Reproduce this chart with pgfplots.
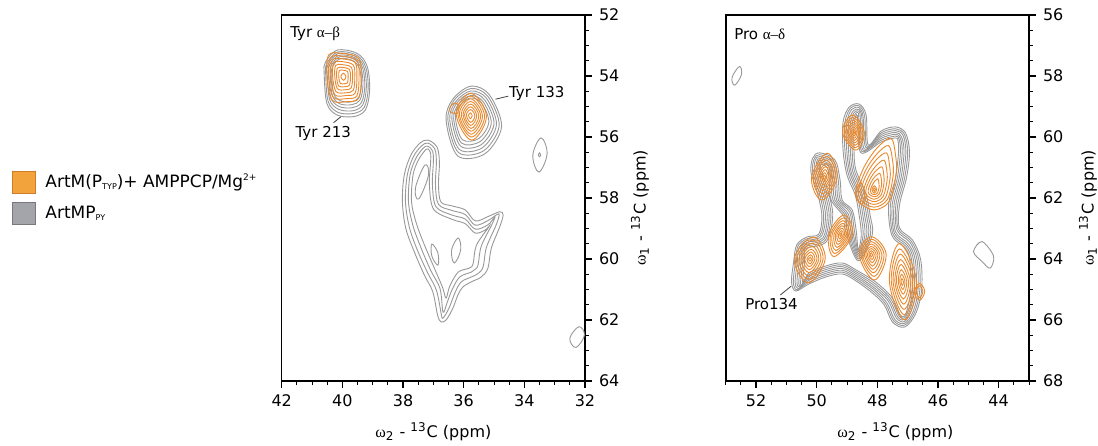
\documentclass[border=0pt]{standalone}
\usepackage{pgfplots}
\pgfplotsset{compat=1.18}
\usepackage{fontspec}
\setmainfont{DejaVu Sans}
\newfontfamily\greek{Liberation Serif}
\definecolor{oc}{RGB}{234,136,44}
\definecolor{gc}{RGB}{152,152,152}
\definecolor{olf}{RGB}{242,163,60}
\definecolor{old}{RGB}{205,125,40}
\definecolor{glf}{RGB}{163,165,170}
\definecolor{gld}{RGB}{120,120,125}
\newcommand\fa{\fontsize{7.5}{9}\selectfont}
\newcommand\fl{\fontsize{8}{9.5}\selectfont}
\pgfplotsset{
  panel/.style={scale only axis, width=151.65pt, height=183pt,
    x dir=reverse, y dir=reverse, clip mode=individual,
    axis line style={line width=0.8pt},
    tick align=outside, xtick pos=left, ytick pos=right, yticklabel pos=right,
    major tick length=3.5pt, minor tick length=2pt,
    every tick/.style={black, line width=0.7pt},
    every minor tick/.style={black, line width=0.5pt},
    tick label style={font=\fontsize{8}{9.5}\selectfont},
    /pgf/number format/assume math mode=true},
  gcont/.style={draw=gc, line width=0.45pt, smooth cycle, tension=0.65, mark=none},
  ocont/.style={draw=oc, line width=0.45pt, smooth cycle, tension=0.65, mark=none},
  genv/.style={draw=gc, line width=0.45pt, smooth cycle, tension=0.55, mark=none},
  oenv/.style={draw=oc, line width=0.45pt, smooth cycle, tension=0.55, mark=none}
}
\begin{document}
\begin{tikzpicture}[x=1pt,y=1pt]
\path[use as bounding box] (0,0) rectangle (549,222.5);
% legend
\filldraw[fill=olf, draw=old, line width=0.4pt] (6,126) rectangle (17.5,137);
\filldraw[fill=glf, draw=gld, line width=0.4pt] (6,110.5) rectangle (17.5,121.5);
\node[anchor=west, inner sep=0pt, font=\fontsize{8.5}{10}\selectfont] at (22.5,131.5) {ArtM(P\raisebox{-1pt}{\fontsize{4}{4}\selectfont TYP})+ AMPPCP/Mg\raisebox{3.5pt}{\fontsize{4.5}{5}\selectfont 2+}};
\node[anchor=west, inner sep=0pt, font=\fontsize{8.5}{10}\selectfont] at (22.5,116) {ArtMP\raisebox{-1pt}{\fontsize{4}{4}\selectfont PY}};

% ---------------- left panel ----------------
\begin{axis}[panel, at={(140.85pt,32pt)}, anchor=south west,
  xmin=32, xmax=42, ymin=52, ymax=64,
  xtick={32,34,...,42}, ytick={52,54,...,64},
  minor xtick={32,32.5,...,42}, minor ytick={52,52.5,...,64}]
% Tyr 213 gray
\addplot[genv] coordinates {(40.17,53.15) (39.51,53.26) (39.18,53.69) (39.10,54.46) (39.24,55.11) (39.62,55.33) (40.17,55.28) (40.51,54.90) (40.60,53.91) (40.56,53.55)};
\addplot[genv] coordinates {(40.15,53.21) (39.54,53.31) (39.23,53.71) (39.15,54.42) (39.28,55.03) (39.64,55.23) (40.15,55.19) (40.47,54.83) (40.55,53.91) (40.51,53.58)};
\addplot[genv] coordinates {(40.13,53.26) (39.56,53.36) (39.28,53.73) (39.21,54.39) (39.33,54.95) (39.66,55.14) (40.13,55.09) (40.42,54.77) (40.50,53.92) (40.47,53.61)};
\addplot[genv] coordinates {(40.11,53.32) (39.59,53.40) (39.33,53.74) (39.26,54.35) (39.37,54.87) (39.67,55.04) (40.11,55.00) (40.38,54.70) (40.45,53.92) (40.42,53.63)};
\addplot[genv] coordinates {(40.09,53.37) (39.61,53.45) (39.38,53.76) (39.32,54.32) (39.42,54.79) (39.69,54.94) (40.09,54.91) (40.33,54.63) (40.40,53.92) (40.37,53.66)};
\addplot[genv] coordinates {(40.07,53.43) (39.64,53.50) (39.43,53.78) (39.37,54.28) (39.46,54.70) (39.71,54.85) (40.07,54.81) (40.29,54.57) (40.35,53.92) (40.32,53.69)};
% Tyr 133 gray
\addplot[genv] coordinates {(35.75,54.33) (35.15,54.62) (34.75,55.66) (35.30,56.55) (36.20,56.62) (36.58,55.45) (36.35,54.75)};
\addplot[genv] coordinates {(35.75,54.41) (35.20,54.67) (34.83,55.63) (35.34,56.45) (36.17,56.51) (36.52,55.44) (36.31,54.79)};
\addplot[genv] coordinates {(35.76,54.49) (35.25,54.73) (34.92,55.60) (35.38,56.35) (36.14,56.41) (36.46,55.43) (36.26,54.84)};
\addplot[genv] coordinates {(35.76,54.56) (35.31,54.78) (35.00,55.57) (35.42,56.25) (36.10,56.30) (36.39,55.41) (36.22,54.88)};
\addplot[genv] coordinates {(35.77,54.64) (35.36,54.84) (35.09,55.55) (35.46,56.15) (36.07,56.20) (36.33,55.40) (36.17,54.93)};
\addplot[genv] coordinates {(35.77,54.72) (35.41,54.89) (35.17,55.52) (35.50,56.05) (36.04,56.09) (36.27,55.39) (36.13,54.97)};
% small peaks
\addplot[gcont] coordinates {(33.45,56.03) (33.25,56.55) (33.52,57.15) (33.72,56.60)};
\addplot[gcont] coordinates {(33.50,56.52) (33.46,56.58) (33.50,56.65) (33.54,56.58)};
\addplot[gcont] coordinates {(32.20,62.22) (32.02,62.50) (32.30,62.90) (32.50,62.60)};
% lower structure
\addplot[genv] coordinates {(37.18,56.10) (36.88,56.33) (36.80,56.82) (36.83,57.57) (36.75,58.13) (36.38,58.26) (35.95,58.39) (35.62,58.75) (35.20,58.61) (34.81,58.45) (34.70,58.56) (34.81,58.94) (35.09,59.65) (35.20,60.30) (35.42,60.59) (35.75,60.75) (36.03,60.92) (36.19,61.18) (36.36,61.62) (36.58,62.00) (36.75,62.06) (36.86,61.84) (37.02,61.07) (37.30,60.52) (37.63,59.76) (37.91,58.99) (38.02,58.12) (37.96,57.25) (37.74,56.59) (37.44,56.20)};
\addplot[genv] coordinates {(37.18,56.20) (36.95,56.40) (36.90,56.82) (36.93,57.57) (36.83,58.21) (36.38,58.41) (35.95,58.54) (35.62,58.89) (35.20,58.74) (34.90,58.54) (34.83,58.56) (34.94,58.91) (35.25,59.62) (35.36,60.26) (35.53,60.48) (35.75,60.59) (36.08,60.75) (36.28,61.09) (36.47,61.58) (36.64,61.89) (36.71,61.94) (36.74,61.80) (36.90,61.02) (37.19,60.45) (37.53,59.70) (37.79,58.96) (37.92,58.12) (37.86,57.25) (37.66,56.65) (37.39,56.29)};
\addplot[genv] coordinates {(37.18,56.30) (37.02,56.47) (37.00,56.82) (37.03,57.57) (36.91,58.29) (36.38,58.56) (35.95,58.69) (35.62,59.02) (35.20,58.88) (34.97,58.61) (35.08,58.89) (35.42,59.58) (35.53,60.21) (35.65,60.36) (35.75,60.43) (36.13,60.59) (36.38,61.00) (36.55,61.44) (36.68,61.74) (36.78,60.97) (37.09,60.37) (37.42,59.60) (37.68,58.88) (37.82,58.12) (37.77,57.25) (37.58,56.71) (37.34,56.37)};
\addplot[genv] coordinates {(37.18,56.39) (37.09,56.53) (37.09,56.82) (37.13,57.57) (36.99,58.37) (36.38,58.70) (35.95,58.84) (35.62,59.15) (35.29,59.05) (35.15,58.92) (35.58,59.55) (35.69,60.16) (35.82,60.30) (36.18,60.43) (36.46,60.89) (36.58,61.28) (36.70,60.92) (36.98,60.27) (37.31,59.50) (37.56,58.83) (37.72,58.12) (37.67,57.25) (37.50,56.77) (37.29,56.46)};
\addplot[gcont] coordinates {(37.28,56.92) (37.16,57.25) (37.48,58.03) (37.59,57.67)};
\addplot[gcont] coordinates {(36.18,59.31) (36.10,59.71) (36.31,60.13) (36.40,59.71)};
\addplot[gcont] coordinates {(37.05,59.51) (36.85,59.80) (36.85,60.20) (37.05,59.90)};
% Tyr 213 orange
\addplot[oenv] coordinates {(40.45,53.31) (40.01,53.26) (39.46,53.42) (39.38,54.02) (39.46,54.73) (39.84,54.84) (40.34,54.79) (40.51,54.02)};
\addplot[oenv] coordinates {(40.39,53.40) (40.01,53.35) (39.52,53.49) (39.45,54.02) (39.52,54.65) (39.86,54.74) (40.30,54.70) (40.45,54.02)};
\addplot[oenv] coordinates {(40.33,53.48) (40.00,53.44) (39.58,53.56) (39.52,54.02) (39.58,54.56) (39.87,54.64) (40.25,54.61) (40.38,54.02)};
\addplot[oenv] coordinates {(40.28,53.57) (40.00,53.53) (39.64,53.64) (39.59,54.02) (39.64,54.47) (39.89,54.55) (40.21,54.51) (40.32,54.02)};
\addplot[oenv] coordinates {(40.22,53.65) (39.99,53.63) (39.71,53.71) (39.66,54.02) (39.71,54.39) (39.90,54.45) (40.16,54.42) (40.25,54.02)};
\addplot[oenv] coordinates {(40.16,53.74) (39.99,53.72) (39.77,53.78) (39.73,54.02) (39.77,54.30) (39.92,54.35) (40.12,54.33) (40.19,54.02)};
\addplot[oenv] coordinates {(40.10,53.82) (39.98,53.81) (39.83,53.85) (39.81,54.02) (39.83,54.22) (39.93,54.25) (40.07,54.24) (40.12,54.02)};
\addplot[ocont] coordinates {(39.97,53.91) (39.88,54.02) (39.96,54.14) (40.05,54.02)};
% Tyr 133 orange
\addplot[ocont] coordinates {(35.75,54.57) (35.25,55.33) (35.75,56.10) (36.25,55.22)};
\addplot[ocont] coordinates {(35.75,54.66) (35.31,55.33) (35.75,56.00) (36.19,55.23)};
\addplot[ocont] coordinates {(35.76,54.75) (35.38,55.32) (35.76,55.91) (36.14,55.24)};
\addplot[ocont] coordinates {(35.76,54.83) (35.44,55.32) (35.76,55.81) (36.08,55.25)};
\addplot[ocont] coordinates {(35.76,54.92) (35.50,55.32) (35.76,55.72) (36.02,55.26)};
\addplot[ocont] coordinates {(35.77,55.01) (35.57,55.31) (35.77,55.62) (35.97,55.27)};
\addplot[ocont] coordinates {(35.77,55.10) (35.63,55.31) (35.77,55.52) (35.91,55.28)};
\addplot[ocont] coordinates {(35.78,55.21) (35.72,55.30) (35.78,55.40) (35.84,55.29)};
\addplot[ocont] coordinates {(36.40,54.95) (36.22,54.90) (36.20,55.22) (36.46,55.15)};
% labels
\node[anchor=west, font=\fa, inner sep=0pt] at (axis description cs:0.027,0.949) {Tyr {\greek α–β}};
\node[font=\fa, inner sep=0pt] at (axis cs:40.63,55.90) {Tyr 213};
\draw[black!75, line width=0.4pt] (axis cs:40.29,55.53) -- (axis cs:40.04,55.33);
\node[font=\fa, inner sep=0pt] at (axis cs:33.59,54.56) {Tyr 133};
\draw[black!75, line width=0.4pt] (axis cs:34.95,54.76) -- (axis cs:34.53,54.66);
\node[font=\fl] at ([yshift=-25.5pt]axis description cs:0.5,0) {{\greek ω}\textsubscript{2} - \textsuperscript{13}C (ppm)};
\node[font=\fl, rotate=90] at ([xshift=27.5pt]axis description cs:1,0.473) {{\greek ω}\textsubscript{1} - \textsuperscript{13}C (ppm)};
\end{axis}

% ---------------- right panel ----------------
\begin{axis}[panel, at={(362.85pt,32pt)}, anchor=south west,
  xmin=43, xmax=53, ymin=56, ymax=68,
  xtick={44,46,...,52}, ytick={56,58,...,68},
  minor xtick={43,43.5,...,53}, minor ytick={56,56.5,...,68}]
\addplot[gcont] coordinates {(52.55,57.69) (52.48,57.95) (52.70,58.30) (52.79,58.05)};
\addplot[genv] coordinates {(44.55,63.43) (44.17,63.90) (44.28,64.30) (44.55,64.08) (44.83,63.76)};
% envelope
\addplot[genv] coordinates {(49.90,60.52) (49.40,60.75) (49.23,61.41) (49.16,62.07) (48.83,62.39) (48.70,63.05) (48.63,63.70) (48.53,63.21) (48.60,62.56) (48.73,61.90) (49.00,61.25) (49.13,60.43) (49.13,59.51) (48.93,59.02) (48.60,58.92) (48.37,59.28) (48.30,60.26) (47.87,59.80) (47.40,59.67) (47.07,59.87) (46.94,60.49) (47.04,61.34) (47.27,62.23) (47.27,62.98) (46.84,63.38) (46.57,64.03) (46.54,65.02) (46.74,65.80) (47.10,66.23) (47.50,66.07) (47.77,65.51) (48.17,65.11) (48.70,64.72) (49.16,64.49) (49.70,64.59) (50.26,64.82) (50.69,65.05) (50.83,64.75) (50.76,64.10) (50.66,63.54) (50.33,63.28) (49.93,63.18) (49.83,62.56) (50.00,61.74) (50.19,61.15) (50.13,60.69)};
\addplot[genv] coordinates {(49.90,60.58) (49.44,60.79) (49.29,61.41) (49.22,62.07) (48.87,62.43) (48.76,63.05) (48.63,63.76) (48.47,63.21) (48.54,62.56) (48.67,61.90) (48.95,61.22) (49.07,60.43) (49.07,59.53) (48.89,59.06) (48.60,58.98) (48.42,59.31) (48.34,60.30) (47.87,59.86) (47.40,59.73) (47.11,59.91) (47.00,60.49) (47.10,61.34) (47.33,62.23) (47.31,63.02) (46.88,63.42) (46.63,64.03) (46.60,65.02) (46.78,65.76) (47.10,66.17) (47.46,66.03) (47.73,65.47) (48.15,65.05) (48.70,64.66) (49.16,64.43) (49.70,64.53) (50.26,64.76) (50.65,65.01) (50.77,64.75) (50.70,64.10) (50.62,63.58) (50.33,63.34) (49.89,63.22) (49.77,62.56) (49.94,61.74) (50.13,61.15) (50.09,60.73)};
\addplot[genv] coordinates {(49.90,60.64) (49.48,60.83) (49.35,61.41) (49.28,62.07) (48.91,62.47) (48.82,63.05) (48.63,63.82) (48.41,63.21) (48.48,62.56) (48.61,61.90) (48.90,61.19) (49.01,60.43) (49.01,59.55) (48.85,59.10) (48.60,59.04) (48.47,59.34) (48.38,60.34) (47.87,59.92) (47.40,59.79) (47.15,59.95) (47.06,60.49) (47.16,61.34) (47.39,62.23) (47.35,63.06) (46.92,63.46) (46.69,64.03) (46.66,65.02) (46.82,65.72) (47.10,66.11) (47.42,65.99) (47.69,65.43) (48.13,64.99) (48.70,64.60) (49.16,64.37) (49.70,64.47) (50.26,64.70) (50.61,64.97) (50.71,64.75) (50.64,64.10) (50.58,63.62) (50.33,63.40) (49.85,63.26) (49.71,62.56) (49.88,61.74) (50.07,61.15) (50.05,60.77)};
\addplot[genv] coordinates {(49.90,60.70) (49.53,60.88) (49.41,61.41) (49.34,62.07) (48.96,62.52) (48.88,63.05) (48.63,63.88) (48.35,63.21) (48.42,62.56) (48.55,61.90) (48.86,61.16) (48.95,60.43) (48.95,59.56) (48.80,59.15) (48.60,59.10) (48.51,59.37) (48.43,60.39) (47.87,59.98) (47.40,59.85) (47.20,60.00) (47.12,60.49) (47.22,61.34) (47.45,62.23) (47.40,63.11) (46.97,63.51) (46.75,64.03) (46.72,65.02) (46.87,65.67) (47.10,66.05) (47.37,65.94) (47.64,65.38) (48.12,64.93) (48.70,64.54) (49.16,64.31) (49.70,64.41) (50.26,64.64) (50.56,64.92) (50.65,64.75) (50.58,64.10) (50.53,63.67) (50.33,63.46) (49.80,63.31) (49.65,62.56) (49.82,61.74) (50.01,61.15) (50.00,60.82)};
\addplot[genv] coordinates {(49.90,60.76) (49.57,60.92) (49.47,61.41) (49.40,62.07) (49.00,62.56) (48.94,63.05) (48.63,63.94) (48.29,63.21) (48.36,62.56) (48.49,61.90) (48.81,61.13) (48.89,60.43) (48.89,59.58) (48.76,59.19) (48.60,59.16) (48.56,59.40) (48.47,60.43) (47.87,60.04) (47.40,59.91) (47.24,60.04) (47.18,60.49) (47.28,61.34) (47.51,62.23) (47.44,63.15) (47.01,63.55) (46.81,64.03) (46.78,65.02) (46.91,65.63) (47.10,65.99) (47.33,65.90) (47.60,65.34) (48.10,64.87) (48.70,64.48) (49.16,64.25) (49.70,64.35) (50.26,64.58) (50.52,64.88) (50.59,64.75) (50.52,64.10) (50.49,63.71) (50.33,63.52) (49.76,63.35) (49.59,62.56) (49.76,61.74) (49.95,61.15) (49.96,60.86)};
\addplot[genv] coordinates {(49.90,60.82) (49.61,60.96) (49.53,61.41) (49.46,62.07) (49.04,62.60) (49.00,63.05) (48.63,64.00) (48.23,63.21) (48.30,62.56) (48.43,61.90) (48.76,61.10) (48.83,60.43) (48.83,59.60) (48.72,59.23) (48.62,59.22) (48.61,59.43) (48.51,60.47) (47.87,60.10) (47.40,59.97) (47.28,60.08) (47.24,60.49) (47.34,61.34) (47.57,62.23) (47.48,63.19) (47.05,63.59) (46.87,64.03) (46.84,65.02) (46.95,65.59) (47.10,65.93) (47.29,65.86) (47.56,65.30) (48.08,64.81) (48.70,64.42) (49.16,64.19) (49.70,64.29) (50.26,64.52) (50.48,64.84) (50.53,64.75) (50.46,64.10) (50.45,63.75) (50.33,63.58) (49.72,63.39) (49.53,62.56) (49.70,61.74) (49.89,61.15) (49.92,60.90)};
\addplot[genv] coordinates {(49.90,60.88) (49.65,61.00) (49.59,61.41) (49.52,62.07) (49.08,62.64) (49.06,63.05) (48.63,64.06) (48.17,63.21) (48.24,62.56) (48.37,61.90) (48.71,61.07) (48.77,60.43) (48.77,59.62) (48.66,59.30) (48.55,60.51) (47.87,60.16) (47.40,60.03) (47.32,60.12) (47.30,60.49) (47.40,61.34) (47.63,62.23) (47.52,63.23) (47.09,63.63) (46.93,64.03) (46.90,65.02) (46.99,65.55) (47.10,65.87) (47.25,65.82) (47.52,65.26) (48.06,64.75) (48.70,64.36) (49.16,64.13) (49.70,64.23) (50.26,64.46) (50.46,64.78) (50.40,64.10) (50.41,63.79) (50.33,63.64) (49.68,63.43) (49.47,62.56) (49.64,61.74) (49.83,61.15) (49.88,60.94)};
% orange A
\addplot[ocont] coordinates {(48.82,59.28) (48.43,59.85) (48.71,60.43) (49.15,59.85)};
\addplot[ocont] coordinates {(48.81,59.36) (48.48,59.85) (48.72,60.35) (49.10,59.85)};
\addplot[ocont] coordinates {(48.81,59.44) (48.53,59.85) (48.73,60.27) (49.05,59.85)};
\addplot[ocont] coordinates {(48.80,59.52) (48.58,59.85) (48.74,60.19) (48.99,59.85)};
\addplot[ocont] coordinates {(48.80,59.59) (48.62,59.85) (48.75,60.11) (48.95,59.85)};
\addplot[ocont] coordinates {(48.79,59.67) (48.67,59.85) (48.76,60.04) (48.90,59.85)};
\addplot[ocont] coordinates {(48.79,59.74) (48.71,59.85) (48.77,59.97) (48.85,59.85)};
\addplot[ocont] coordinates {(48.78,59.80) (48.75,59.85) (48.77,59.90) (48.81,59.85)};
% orange B
\addplot[ocont] coordinates {(49.65,60.53) (49.33,61.33) (49.83,62.07) (50.17,61.33)};
\addplot[ocont] coordinates {(49.66,60.64) (49.39,61.33) (49.82,61.97) (50.11,61.33)};
\addplot[ocont] coordinates {(49.68,60.75) (49.45,61.33) (49.81,61.86) (50.05,61.33)};
\addplot[ocont] coordinates {(49.69,60.87) (49.51,61.33) (49.80,61.76) (49.99,61.33)};
\addplot[ocont] coordinates {(49.71,60.97) (49.56,61.33) (49.79,61.66) (49.94,61.33)};
\addplot[ocont] coordinates {(49.72,61.07) (49.62,61.33) (49.78,61.57) (49.88,61.33)};
\addplot[ocont] coordinates {(49.73,61.17) (49.67,61.33) (49.77,61.48) (49.83,61.33)};
\addplot[ocont] coordinates {(49.74,61.26) (49.71,61.33) (49.76,61.40) (49.79,61.33)};
% orange C
\addplot[oenv] coordinates {(47.55,60.04) (47.40,60.60) (47.38,61.19) (47.60,62.10) (48.10,62.39) (48.60,62.15) (48.71,61.74) (48.43,60.97) (48.00,60.35)};
\addplot[oenv] coordinates {(47.63,60.28) (47.50,60.76) (47.48,61.27) (47.67,62.05) (48.10,62.30) (48.53,62.09) (48.62,61.74) (48.38,61.08) (48.01,60.55)};
\addplot[oenv] coordinates {(47.70,60.52) (47.60,60.92) (47.58,61.35) (47.74,62.00) (48.10,62.21) (48.46,62.04) (48.54,61.74) (48.34,61.19) (48.03,60.74)};
\addplot[oenv] coordinates {(47.78,60.76) (47.69,61.08) (47.68,61.43) (47.81,61.95) (48.10,62.12) (48.39,61.98) (48.45,61.74) (48.29,61.30) (48.04,60.94)};
\addplot[oenv] coordinates {(47.85,60.98) (47.79,61.23) (47.78,61.50) (47.88,61.91) (48.10,62.04) (48.33,61.93) (48.38,61.74) (48.25,61.40) (48.06,61.12)};
\addplot[oenv] coordinates {(47.92,61.19) (47.87,61.37) (47.86,61.57) (47.94,61.87) (48.10,61.96) (48.27,61.88) (48.30,61.74) (48.21,61.49) (48.07,61.29)};
\addplot[oenv] coordinates {(47.98,61.37) (47.95,61.50) (47.94,61.63) (47.99,61.83) (48.10,61.89) (48.21,61.84) (48.23,61.74) (48.17,61.58) (48.08,61.44)};
\addplot[ocont] coordinates {(48.10,61.60) (48.02,61.72) (48.10,61.84) (48.18,61.72)};
\addplot[ocont] coordinates {(48.10,61.67) (48.06,61.72) (48.10,61.78) (48.14,61.72)};
\addplot[ocont] coordinates {(48.55,61.50) (48.42,61.85) (48.50,62.20) (48.70,61.90)};
% orange D
\addplot[ocont] coordinates {(50.12,63.28) (49.72,64.00) (50.27,64.78) (50.74,64.00)};
\addplot[ocont] coordinates {(50.13,63.38) (49.79,64.00) (50.26,64.67) (50.67,64.00)};
\addplot[ocont] coordinates {(50.15,63.48) (49.86,64.00) (50.26,64.56) (50.59,64.00)};
\addplot[ocont] coordinates {(50.16,63.58) (49.93,64.00) (50.25,64.45) (50.52,64.00)};
\addplot[ocont] coordinates {(50.18,63.68) (49.99,64.00) (50.24,64.35) (50.45,64.00)};
\addplot[ocont] coordinates {(50.19,63.77) (50.06,64.00) (50.24,64.25) (50.39,64.00)};
\addplot[ocont] coordinates {(50.20,63.86) (50.12,64.00) (50.23,64.16) (50.32,64.00)};
\addplot[ocont] coordinates {(50.21,63.94) (50.17,64.00) (50.22,64.07) (50.27,64.00)};
% orange E
\addplot[ocont] coordinates {(49.10,62.56) (48.82,63.20) (49.43,63.92) (49.60,63.20)};
\addplot[ocont] coordinates {(49.11,62.65) (48.87,63.20) (49.40,63.82) (49.54,63.20)};
\addplot[ocont] coordinates {(49.13,62.74) (48.93,63.20) (49.37,63.72) (49.49,63.20)};
\addplot[ocont] coordinates {(49.14,62.83) (48.98,63.20) (49.33,63.62) (49.43,63.20)};
\addplot[ocont] coordinates {(49.16,62.91) (49.03,63.20) (49.30,63.52) (49.38,63.20)};
\addplot[ocont] coordinates {(49.17,62.99) (49.08,63.20) (49.27,63.43) (49.33,63.20)};
\addplot[ocont] coordinates {(49.18,63.07) (49.12,63.20) (49.25,63.34) (49.28,63.20)};
\addplot[ocont] coordinates {(49.19,63.14) (49.17,63.20) (49.22,63.26) (49.24,63.20)};
% orange F
\addplot[ocont] coordinates {(48.20,63.27) (47.71,63.85) (48.10,64.69) (48.60,63.85)};
\addplot[ocont] coordinates {(48.20,63.35) (47.78,63.85) (48.11,64.57) (48.54,63.85)};
\addplot[ocont] coordinates {(48.20,63.43) (47.85,63.85) (48.13,64.45) (48.49,63.85)};
\addplot[ocont] coordinates {(48.20,63.51) (47.92,63.85) (48.14,64.34) (48.43,63.85)};
\addplot[ocont] coordinates {(48.20,63.59) (47.98,63.85) (48.16,64.23) (48.38,63.85)};
\addplot[ocont] coordinates {(48.20,63.66) (48.04,63.85) (48.17,64.12) (48.33,63.85)};
\addplot[ocont] coordinates {(48.20,63.73) (48.10,63.85) (48.18,64.02) (48.28,63.85)};
\addplot[ocont] coordinates {(48.20,63.80) (48.16,63.85) (48.19,63.93) (48.24,63.85)};
% orange G
\addplot[ocont] coordinates {(47.27,63.49) (46.71,64.75) (47.10,66.00) (47.60,64.75)};
\addplot[ocont] coordinates {(47.26,63.67) (46.78,64.75) (47.11,65.83) (47.54,64.75)};
\addplot[ocont] coordinates {(47.24,63.84) (46.84,64.75) (47.12,65.65) (47.48,64.75)};
\addplot[ocont] coordinates {(47.23,64.02) (46.91,64.75) (47.13,65.48) (47.42,64.75)};
\addplot[ocont] coordinates {(47.22,64.18) (46.97,64.75) (47.14,65.31) (47.37,64.75)};
\addplot[ocont] coordinates {(47.21,64.35) (47.03,64.75) (47.15,65.15) (47.31,64.75)};
\addplot[ocont] coordinates {(47.20,64.50) (47.09,64.75) (47.16,65.00) (47.26,64.75)};
\addplot[ocont] coordinates {(47.19,64.64) (47.14,64.75) (47.17,64.86) (47.22,64.75)};
\addplot[ocont] coordinates {(46.62,64.80) (46.44,65.05) (46.60,65.35) (46.78,65.10)};
\addplot[ocont] coordinates {(46.62,64.88) (46.50,65.05) (46.60,65.27) (46.72,65.08)};
% labels
\node[anchor=west, font=\fa, inner sep=0pt] at (axis description cs:0.027,0.949) {Pro {\greek α–δ}};
\node[font=\fa, inner sep=0pt] at (axis cs:51.49,65.49) {Pro134};
\draw[black!75, line width=0.4pt] (axis cs:51.20,65.18) -- (axis cs:50.84,64.89);
\node[font=\fl] at ([xshift=9pt, yshift=-25.5pt]axis description cs:0.5,0) {{\greek ω}\textsubscript{2} - \textsuperscript{13}C (ppm)};
\node[font=\fl, rotate=90] at ([xshift=29.5pt]axis description cs:1,0.473) {{\greek ω}\textsubscript{1} - \textsuperscript{13}C (ppm)};
\end{axis}
\end{tikzpicture}
\end{document}
